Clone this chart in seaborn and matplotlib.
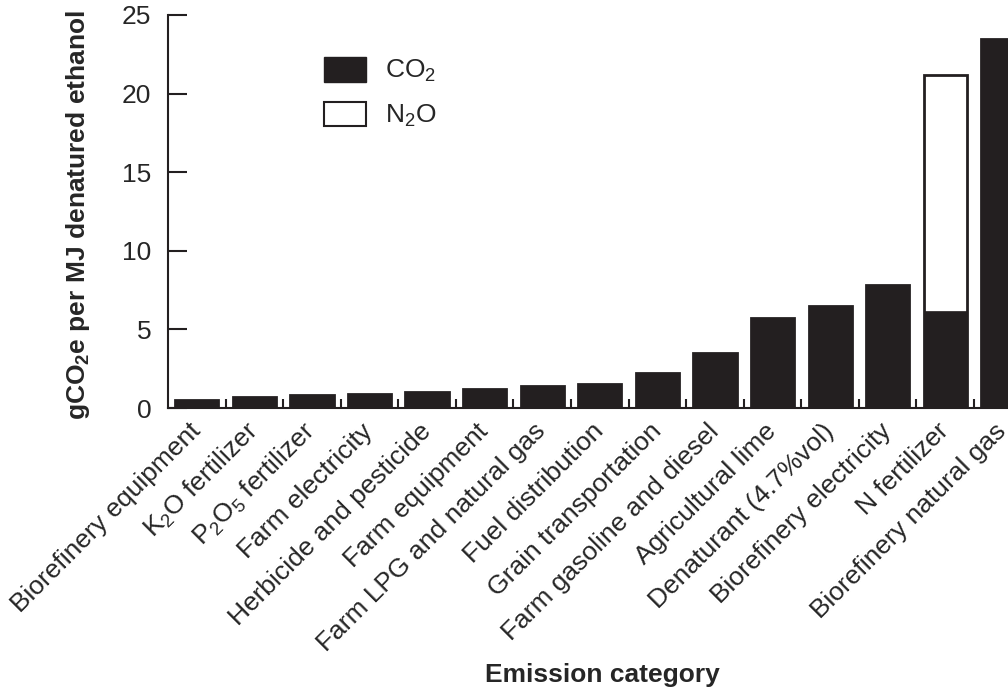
#!/usr/bin/env python3
"""Corn ethanol emission categories: stacked CO2 / N2O bar chart."""
import pandas as pd
import matplotlib
matplotlib.use('Agg')
import matplotlib.pyplot as plt
from matplotlib.patches import Patch
from matplotlib.ticker import FixedLocator
import seaborn as sns

categories = [
    'Biorefinery equipment', 'K$_2$O fertilizer', 'P$_2$O$_5$ fertilizer',
    'Farm electricity', 'Herbicide and pesticide', 'Farm equipment',
    'Farm LPG and natural gas', 'Fuel distribution', 'Grain transportation',
    'Farm gasoline and diesel', 'Agricultural lime', 'Denaturant (4.7%vol)',
    'Biorefinery electricity', 'N fertilizer', 'Biorefinery natural gas',
]
co2 = [0.5, 0.7, 0.8, 0.9, 1.0, 1.2, 1.4, 1.5, 2.2, 3.5, 5.7, 6.5, 7.8, 6.2, 23.5]
n2o = [0, 0, 0, 0, 0, 0, 0, 0, 0, 0, 0, 0, 0, 15.0, 0]

df = pd.DataFrame({'category': categories, 'co2': co2, 'n2o': n2o})
df['total'] = df['co2'] + df['n2o']

INK = '#231f20'

sns.set_style('ticks')
plt.rcParams['font.family'] = ['Liberation Sans', 'DejaVu Sans']
plt.rcParams['mathtext.default'] = 'regular'

fig = plt.figure(figsize=(10.08, 6.89), dpi=100)
ax = fig.add_axes([168 / 1008, 1 - 408 / 689, 840 / 1008, 393 / 689])

# white N2O part underneath, black CO2 part on top
sns.barplot(data=df, x='category', y='total', color='white', edgecolor=INK,
            linewidth=2, width=0.75, saturation=1, ax=ax)
sns.barplot(data=df, x='category', y='co2', color=INK, edgecolor=INK,
            linewidth=0.5, width=0.75, saturation=1, ax=ax)

ax.set_xlim(-0.5, 14.09)
ax.set_ylim(0, 25)
ax.set_yticks([0, 5, 10, 15, 20, 25])
sns.despine(ax=ax)
for s in ('left', 'bottom'):
    ax.spines[s].set_linewidth(1.5)
    ax.spines[s].set_color(INK)

ax.tick_params(axis='y', direction='in', length=14, width=1.5, color=INK,
               labelsize=19, pad=12)
ax.tick_params(axis='x', which='major', length=0, pad=14, labelsize=19)
ax.xaxis.set_minor_locator(FixedLocator([i + 0.5 for i in range(14)]))
ax.tick_params(axis='x', which='minor', direction='in', length=6.5, width=1.5,
               color=INK)
for lab in ax.get_xticklabels():
    lab.set_rotation(45)
    lab.set_ha('right')
    lab.set_va('center')
    lab.set_rotation_mode('anchor')

ax.set_xlabel('Emission category', fontsize=19, fontweight='bold')
ax.xaxis.set_label_coords(0.517, -0.65)
ax.set_ylabel('gCO$_2$e per MJ denatured ethanol', fontsize=19,
              fontweight='bold')
ax.yaxis.set_label_coords(-0.09, 0.49)

handles = [Patch(facecolor=INK, edgecolor=INK, label='CO$_2$'),
           Patch(facecolor='white', edgecolor=INK, linewidth=1.5, label='N$_2$O')]
ax.legend(handles=handles, loc='upper left', bbox_to_anchor=(0.186, 0.893),
          frameon=False, fontsize=19, borderpad=0, borderaxespad=0,
          handlelength=1.6, handleheight=1.05, handletextpad=0.7,
          labelspacing=0.65)

fig.savefig('out.png', dpi=100)
